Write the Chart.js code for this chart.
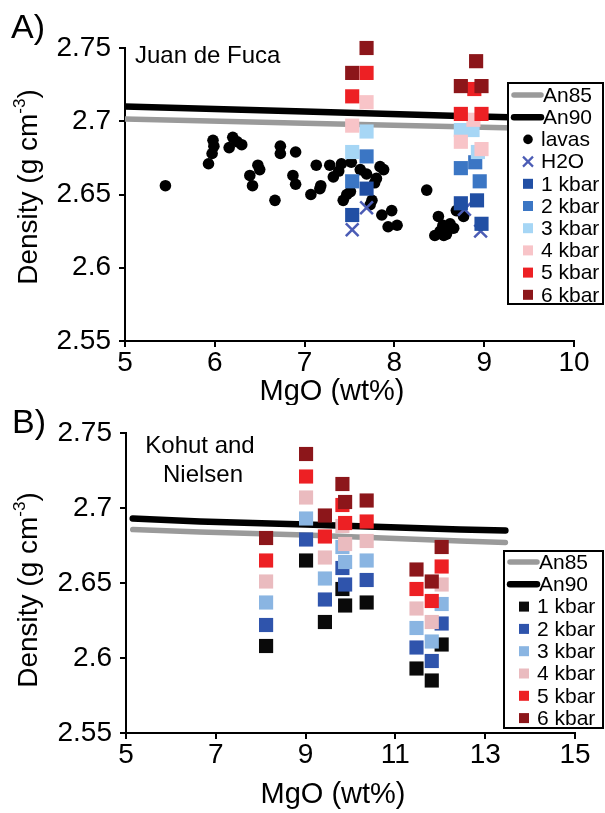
<!DOCTYPE html>
<html>
<head>
<meta charset="utf-8">
<title>Density vs MgO</title>
<script src="https://cdn.jsdelivr.net/npm/chart.js@4.4.0/dist/chart.umd.min.js"></script>
<style>
  html, body { margin: 0; padding: 0; background: #fff; }
  #wrap { position: relative; width: 605px; height: 813px; }
  .panel { position: absolute; left: 0; width: 605px; }
  #panelA { top: 0; height: 405px; }
  #panelB { top: 405px; height: 408px; }
</style>
</head>
<body>
<div id="wrap">
  <div class="panel" id="panelA"><canvas id="chartA" width="605" height="405"></canvas></div>
  <div class="panel" id="panelB"><canvas id="chartB" width="605" height="408"></canvas></div>
</div>
<script>
const FONT = '"Liberation Sans", Arial, Helvetica, sans-serif';

// ---- A) Juan de Fuca : [MgO wt%, density g/cm3] ----
const lavasA = [
    [5.45, 2.656], [5.98, 2.687], [5.99, 2.683], [5.97, 2.678], [5.93, 2.671],
    [6.20, 2.689], [6.16, 2.682], [6.30, 2.684], [6.25, 2.686], [6.39, 2.663],
    [6.42, 2.656], [6.48, 2.670], [6.50, 2.667], [6.67, 2.646], [6.73, 2.683],
    [6.73, 2.678], [6.90, 2.679], [6.87, 2.663], [6.90, 2.657], [7.07, 2.650],
    [7.13, 2.670], [7.17, 2.654], [7.18, 2.656], [7.28, 2.670], [7.32, 2.662],
    [7.38, 2.666], [7.41, 2.671], [7.52, 2.672], [7.43, 2.646], [7.47, 2.650],
    [7.51, 2.652], [7.62, 2.667], [7.69, 2.664], [7.80, 2.661], [7.78, 2.658],
    [7.88, 2.667], [7.84, 2.669], [7.75, 2.646], [7.73, 2.643], [7.86, 2.636],
    [7.97, 2.639], [7.93, 2.628], [8.03, 2.629], [8.36, 2.653], [8.49, 2.635],
    [8.54, 2.629], [8.51, 2.625], [8.58, 2.623], [8.62, 2.630], [8.66, 2.627],
    [8.69, 2.639], [8.77, 2.635], [8.45, 2.622], [8.55, 2.622], [8.60, 2.626]
];
const h2oA = [[7.53, 2.626], [7.69, 2.641], [8.78, 2.640], [8.96, 2.625]];
const kbar1A = [[7.53, 2.636], [7.69, 2.654], [8.74, 2.644], [8.92, 2.646], [8.97, 2.630]];
const kbar2A = [[7.53, 2.659], [7.69, 2.676], [8.74, 2.668], [8.90, 2.672], [8.95, 2.659]];
const kbar3A = [[7.53, 2.679], [7.69, 2.693], [8.74, 2.694], [8.87, 2.694], [8.93, 2.679]];
const kbar4A = [[7.53, 2.697], [7.69, 2.713], [8.74, 2.686], [8.88, 2.701], [8.97, 2.681]];
const kbar5A = [[7.53, 2.717], [7.69, 2.733], [8.74, 2.705], [8.89, 2.722], [8.97, 2.705]];
const kbar6A = [[7.53, 2.733], [7.69, 2.750], [8.74, 2.724], [8.91, 2.741], [8.97, 2.724]];
const an85A = [[5.0, 2.7015], [7.0, 2.6987], [8.73, 2.6963], [9.6, 2.6951]];
const an90A = [[5.0, 2.7100], [7.0, 2.7066], [8.73, 2.7036], [9.6, 2.7022]];
const xTicksA = [5, 6, 7, 8, 9, 10];

// ---- B) Kohut and Nielsen ----
const kbar1B = [[8.12, 2.608], [9.01, 2.665], [9.43, 2.624], [9.82, 2.646], [9.88, 2.635], [10.36, 2.637], [11.47, 2.593], [11.81, 2.585], [12.03, 2.609]];
const kbar2B = [[8.12, 2.622], [9.01, 2.679], [9.43, 2.639], [9.82, 2.660], [9.88, 2.649], [10.36, 2.652], [11.47, 2.607], [11.81, 2.598], [12.03, 2.623]];
const kbar3B = [[8.12, 2.637], [9.01, 2.693], [9.43, 2.653], [9.82, 2.674], [9.88, 2.664], [10.36, 2.665], [11.47, 2.620], [11.81, 2.611], [12.03, 2.636]];
const kbar4B = [[8.12, 2.651], [9.01, 2.707], [9.43, 2.667], [9.82, 2.688], [9.88, 2.676], [10.36, 2.678], [11.47, 2.633], [11.81, 2.624], [12.03, 2.649]];
const kbar5B = [[8.12, 2.665], [9.01, 2.721], [9.43, 2.681], [9.82, 2.702], [9.88, 2.690], [10.36, 2.691], [11.47, 2.646], [11.81, 2.638], [12.03, 2.661]];
const kbar6B = [[8.12, 2.680], [9.01, 2.736], [9.43, 2.695], [9.82, 2.716], [9.88, 2.704], [10.36, 2.705], [11.47, 2.659], [11.81, 2.651], [12.03, 2.674]];
const an85B = [[5.15, 2.6856], [6.65, 2.684], [9.0, 2.682], [12.44, 2.678], [13.45, 2.677]];
const an90B = [[5.15, 2.693], [6.65, 2.691], [9.0, 2.689], [12.44, 2.6856], [13.45, 2.685]];
const xTicksB = [5, 7, 9, 11, 13, 15];

const yTicks = [2.55, 2.6, 2.65, 2.7, 2.75];
const kbarLabels = ['1 kbar', '2 kbar', '3 kbar', '4 kbar', '5 kbar', '6 kbar'];
const kbarColorsA = ['#214fa4', '#3b76c4', '#a6d6f5', '#f8c4c8', '#ed2024', '#8c161a'];
const kbarColorsB = ['#0a0a0a', '#2f54ac', '#8ab5e2', '#eabbbf', '#ed2024', '#8c161a'];

const toXY = pts => pts.map(([x, y]) => ({ x, y }));

function lineSet(label, pts, color, width, cap) {
    return {
        label, data: toXY(pts), showLine: true, borderColor: color, borderWidth: width,
        borderCapStyle: cap, pointRadius: 0, order: 20
    };
}

function squareSets(series, colors) {
    // higher pressure squares sit on top
    return series.map((pts, i) => ({
        label: kbarLabels[i], data: toXY(pts), pointStyle: 'rect', pointRadius: 10,
        backgroundColor: colors[i], pointBackgroundColor: colors[i],
        borderWidth: 0, pointBorderWidth: 0, order: 6 - i, clip: false
    }));
}

// boxed legend drawn inside the plot area
const boxLegend = {
    id: 'boxLegend',
    afterDraw(chart, args, o) {
        const ctx = chart.ctx;
        ctx.save();
        ctx.fillStyle = '#fff';
        ctx.fillRect(o.left, o.top, o.width, o.height);
        ctx.strokeStyle = '#000';
        ctx.lineWidth = 2;
        ctx.strokeRect(o.left, o.top, o.width, o.height);
        ctx.font = `${o.size}px ${FONT}`;
        ctx.textBaseline = 'middle';
        ctx.textAlign = 'left';
        chart.data.datasets.forEach((ds, i) => {
            const y = o.top + o.first + i * o.step;
            const mx = o.left + 20;
            let tx = o.left + 33;
            if (ds.showLine) {
                ctx.strokeStyle = ds.borderColor;
                ctx.lineWidth = ds.borderWidth;
                ctx.lineCap = 'round';
                ctx.beginPath();
                ctx.moveTo(o.left + 6, y);
                ctx.lineTo(o.left + 33, y);
                ctx.stroke();
                tx = o.left + 35;
            } else if (ds.pointStyle === 'circle') {
                ctx.fillStyle = ds.backgroundColor;
                ctx.beginPath();
                ctx.arc(mx, y, 4.8, 0, 2 * Math.PI);
                ctx.fill();
            } else if (ds.pointStyle === 'crossRot') {
                ctx.strokeStyle = ds.borderColor;
                ctx.lineWidth = 2.2;
                ctx.lineCap = 'butt';
                ctx.beginPath();
                ctx.moveTo(mx - 5, y - 5); ctx.lineTo(mx + 5, y + 5);
                ctx.moveTo(mx + 5, y - 5); ctx.lineTo(mx - 5, y + 5);
                ctx.stroke();
            } else {
                ctx.fillStyle = ds.backgroundColor;
                ctx.fillRect(mx - 5, y - 5, 10, 10);
            }
            ctx.fillStyle = '#000';
            ctx.fillText(ds.label, tx, y + 1);
        });
        ctx.restore();
    }
};

// panel letter, locality name and axis titles
const panelText = {
    id: 'panelText',
    afterDraw(chart, args, o) {
        const ctx = chart.ctx;
        ctx.save();
        ctx.fillStyle = '#000';
        ctx.textBaseline = 'alphabetic';
        o.labels.forEach(l => {
            ctx.font = `${l.size}px ${FONT}`;
            ctx.textAlign = l.align || 'left';
            ctx.fillText(l.text, l.x, l.y);
        });
        const yt = o.yTitle;
        const big = `${yt.size}px ${FONT}`;
        const small = `${yt.supSize}px ${FONT}`;
        ctx.translate(yt.x, yt.y);
        ctx.rotate(-Math.PI / 2);
        ctx.textAlign = 'left';
        ctx.font = big;
        const w1 = ctx.measureText('Density (g cm').width;
        const w3 = ctx.measureText(')').width;
        ctx.font = small;
        const w2 = ctx.measureText('-3').width;
        let x = -(w1 + w2 + w3) / 2;
        ctx.font = big;
        ctx.fillText('Density (g cm', x, 0);
        x += w1;
        ctx.font = small;
        ctx.fillText('-3', x, -yt.rise);
        x += w2;
        ctx.font = big;
        ctx.fillText(')', x, 0);
        ctx.restore();
    }
};

function axisOpts(min, max, ticks, size, pad, fit) {
    return {
        type: 'linear', min, max,
        afterBuildTicks: s => { s.ticks = ticks.map(v => ({ value: v })); },
        afterFit: fit,
        ticks: {
            color: '#000', font: { family: FONT, size, lineHeight: 1 }, padding: pad,
            autoSkip: false, maxRotation: 0, minRotation: 0,
            callback: v => String(+v.toFixed(2))
        },
        grid: { drawOnChartArea: false, color: '#000', lineWidth: 2, tickLength: 6 },
        border: { color: '#000', width: 2 }
    };
}

function makeChart(id, o) {
    return new Chart(document.getElementById(id), {
        type: 'scatter',
        data: { datasets: o.datasets },
        options: {
            responsive: false, animation: false, events: [],
            layout: { padding: o.padding },
            plugins: {
                legend: { display: false }, tooltip: { enabled: false },
                boxLegend: o.legend, panelText: o.text
            },
            scales: {
                x: axisOpts(o.xMin, o.xMax, o.xTicks, 28, 2, s => {
                    s.height = o.xBox; s.paddingLeft = 0; s.paddingRight = 0;
                }),
                y: axisOpts(2.55, 2.75, yTicks, 28, 8, s => {
                    s.width = o.yBox; s.paddingTop = 0; s.paddingBottom = 0;
                })
            }
        },
        plugins: [boxLegend, panelText]
    });
}

makeChart('chartA', {
    xMin: 5, xMax: 10, xTicks: xTicksA, xBox: 64, yBox: 125,
    padding: { top: 48, right: 31, left: 0, bottom: 0 },
    datasets: [
        lineSet('An85', an85A, '#9a9a9a', 5.5, 'butt'),
        lineSet('An90', an90A, '#000', 6.5, 'butt'),
        { label: 'lavas', data: toXY(lavasA), pointStyle: 'circle', pointRadius: 5.8,
          backgroundColor: '#000', pointBackgroundColor: '#000', borderWidth: 0, pointBorderWidth: 0, order: 12 },
        { label: 'H2O', data: toXY(h2oA), pointStyle: 'crossRot', pointRadius: 9,
          borderColor: '#4b5cb5', pointBorderColor: '#4b5cb5', borderWidth: 2.5, pointBorderWidth: 2.5, order: 11 },
        ...squareSets([kbar1A, kbar2A, kbar3A, kbar4A, kbar5A, kbar6A], kbarColorsA)
    ],
    legend: { left: 508, top: 83, width: 95, height: 221, first: 12, step: 22.2, size: 21 },
    text: {
        labels: [
            { text: 'A)', x: 11, y: 38, size: 34 },
            { text: 'Juan de Fuca', x: 135, y: 63, size: 24 },
            { text: 'MgO (wt%)', x: 332, y: 400, size: 29, align: 'center' }
        ],
        yTitle: { x: 37, y: 187, size: 28, supSize: 17, rise: 12 }
    }
});

makeChart('chartB', {
    xMin: 5, xMax: 15, xTicks: xTicksB, xBox: 80, yBox: 126,
    padding: { top: 28, right: 30, left: 0, bottom: 0 },
    datasets: [
        lineSet('An85', an85B, '#9a9a9a', 5.5, 'round'),
        lineSet('An90', an90B, '#000', 6.5, 'round'),
        ...squareSets([kbar1B, kbar2B, kbar3B, kbar4B, kbar5B, kbar6B], kbarColorsB)
    ],
    legend: { left: 504, top: 146, width: 99, height: 177, first: 11, step: 22.3, size: 21 },
    text: {
        labels: [
            { text: 'B)', x: 12, y: 28, size: 34 },
            { text: 'Kohut and', x: 200, y: 48, size: 24, align: 'center' },
            { text: 'Nielsen', x: 203, y: 77, size: 24, align: 'center' },
            { text: 'MgO (wt%)', x: 333, y: 398, size: 29, align: 'center' }
        ],
        yTitle: { x: 37, y: 185, size: 28, supSize: 17, rise: 12 }
    }
});
</script>
</body>
</html>
